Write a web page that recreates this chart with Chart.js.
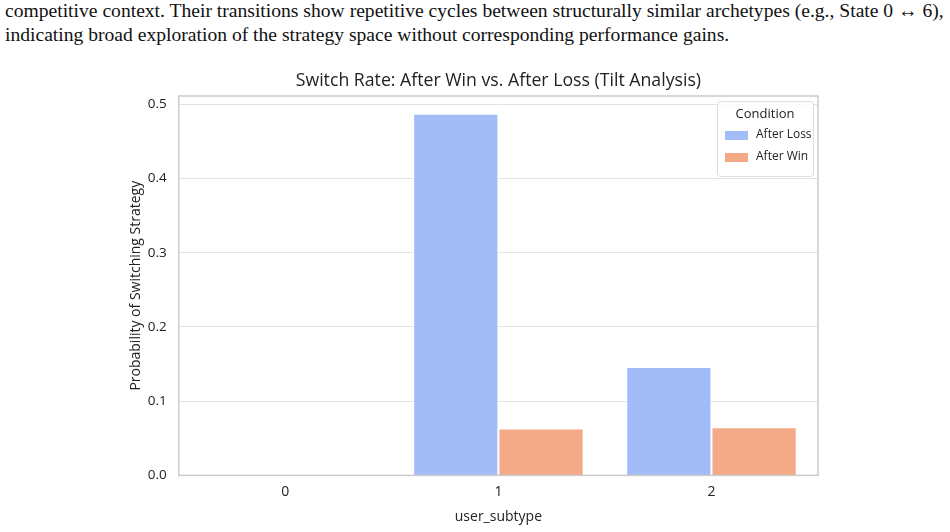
<!DOCTYPE html>
<html>
<head>
<meta charset="utf-8">
<script src="https://cdn.jsdelivr.net/npm/chart.js@4.4.1/dist/chart.umd.min.js"></script>
<style>
  html, body { margin: 0; padding: 0; background: #fff; width: 950px; height: 532px; overflow: hidden; }
  .para {
    position: absolute; left: 5px; top: -1px; width: 945px;
    font-family: "Liberation Serif", "DejaVu Serif", serif;
    font-size: 19.6px; line-height: 24px; color: #111; white-space: nowrap;
  }
  .chart-box { position: absolute; left: 100px; top: 62px; width: 818px; height: 470px; }
</style>
</head>
<body>
<div class="para">
  <div>competitive context. Their transitions show repetitive cycles between structurally similar archetypes (e.g., State 0 &#8596; 6),</div>
  <div>indicating broad exploration of the strategy space without corresponding performance gains.</div>
</div>
<div class="chart-box"><canvas id="tilt"></canvas></div>
<script>
const CATEGORIES = ["0", "1", "2"];
const AFTER_LOSS = [0.0, 0.487, 0.146];
const AFTER_WIN = [0.0, 0.063, 0.065];
const Y_TICKS = [0.0, 0.1, 0.2, 0.3, 0.4, 0.5];

const TITLE = "Switch Rate: After Win vs. After Loss (Tilt Analysis)";
const BLUE = "#a2bcf8";
const ORANGE = "#f5aa87";
const FONT = "'Open Sans', 'Noto Sans', sans-serif";

// title centred over the axes, frame around the plot, legend top right
const framePlugin = {
  id: "frame",
  afterDraw(chart) {
    const { ctx, chartArea: a } = chart;
    ctx.save();
    ctx.fillStyle = "#222";
    ctx.textAlign = "center";
    ctx.textBaseline = "middle";
    ctx.font = "17.7px " + FONT;
    ctx.fillText(TITLE, (a.left + a.right) / 2, a.top - 15);

    ctx.strokeStyle = "#cccccc";
    ctx.lineWidth = 1.5;
    ctx.strokeRect(a.left, a.top, a.right - a.left, a.bottom - a.top);

    const w = 96, h = 75;
    const x = a.right - w - 5, y = a.top + 5;
    ctx.fillStyle = "rgba(255,255,255,0.85)";
    ctx.strokeStyle = "#dddddd";
    ctx.lineWidth = 1;
    ctx.beginPath();
    ctx.roundRect(x + 0.5, y + 0.5, w, h, 3);
    ctx.fill();
    ctx.stroke();

    ctx.fillStyle = "#222";
    ctx.font = "13px " + FONT;
    ctx.fillText("Condition", x + w / 2, y + 13);
    ctx.font = "12px " + FONT;
    ctx.textAlign = "left";
    chart.data.datasets.forEach((ds, i) => {
      const ry = y + 34 + i * 22;
      ctx.fillStyle = ds.backgroundColor;
      ctx.fillRect(x + 8, ry - 4, 23, 9);
      ctx.fillStyle = "#222";
      ctx.fillText(ds.label, x + 39, ry);
    });
    ctx.restore();
  },
};

function initChart() {
  const ctx = document.getElementById("tilt").getContext("2d");
  new Chart(ctx, {
    type: "bar",
    data: {
      labels: CATEGORIES,
      datasets: [
        { label: "After Loss", data: AFTER_LOSS, backgroundColor: BLUE, borderColor: "#ffffff", borderWidth: 1 },
        { label: "After Win", data: AFTER_WIN, backgroundColor: ORANGE, borderColor: "#ffffff", borderWidth: 1 },
      ],
    },
    options: {
      responsive: true,
      maintainAspectRatio: false,
      animation: false,
      layout: { padding: { left: 23, right: 100, top: 34, bottom: 7 } },
      datasets: { bar: { categoryPercentage: 0.8, barPercentage: 1.0 } },
      scales: {
        x: {
          grid: { display: false, drawTicks: false, tickLength: 0 },
          border: { display: false },
          ticks: { color: "#222", font: { size: 14, family: FONT }, padding: 8 },
          title: { display: true, text: "user_subtype", color: "#222", font: { size: 14, family: FONT }, padding: { top: 0, bottom: 0 } },
        },
        y: {
          min: 0,
          max: 0.511,
          afterBuildTicks: (scale) => {
            scale.ticks = Y_TICKS.map((v) => ({ value: v }));
          },
          grid: { color: "#e3e3e3", lineWidth: 1, drawTicks: false },
          border: { display: false },
          ticks: {
            color: "#222",
            font: { size: 13.5, family: FONT },
            padding: 12,
            callback: (v) => Number(v).toFixed(1),
          },
          title: { display: true, text: "Probability of Switching Strategy", color: "#222", font: { size: 14, family: FONT }, padding: { top: 5, bottom: -9 } },
        },
      },
      plugins: {
        legend: { display: false },
        tooltip: { enabled: false },
        title: { display: false },
      },
    },
    plugins: [framePlugin],
  });
}

document.addEventListener("DOMContentLoaded", initChart);
</script>
</body>
</html>
